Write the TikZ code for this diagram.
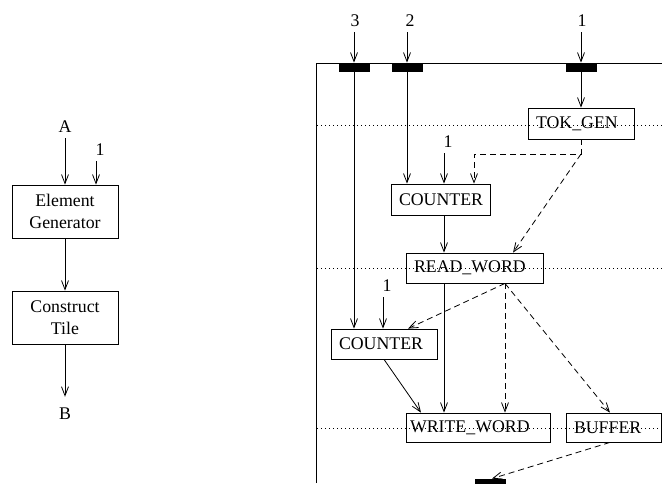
\documentclass[tikz,border=0pt]{standalone}
\usepackage{fontspec}
\setmainfont{Liberation Serif}
\usetikzlibrary{arrows.meta}
\begin{document}
\begin{tikzpicture}[x=1pt,y=-1pt,line width=0.8pt,
  >={Straight Barb[length=9pt,width=7pt]},
  every node/.style={font=\fontsize{17.8}{22}\selectfont},
  lbl/.style={inner sep=5pt},
  lbox/.style={draw,align=center,minimum width=106pt,minimum height=53pt,inner sep=0pt},
  wbox/.style={draw,align=left,inner xsep=8pt,inner ysep=0pt},
  bar/.style={fill=black,minimum width=31pt,minimum height=9pt,inner sep=0pt},
  dsh/.style={dash pattern=on 6pt off 4pt},
  dotl/.style={dash pattern=on 1pt off 3pt,line width=0.7pt}]
\useasboundingbox (0,0) rectangle (662,483);
% left diagram
\node[lbl] (A) at (65,127) {A};
\node[lbl] (one0) at (100,150) {1};
\node[lbox] (eg) at (65,211.5) {Element\\Generator};
\node[lbox] (ct) at (65,317.5) {Construct\\Tile};
\node[lbl] (B) at (65,414) {B};
\draw[->] (A) -- (eg);
\draw[->] ([xshift=-4pt]one0.south) -- ([xshift=-4pt]one0.south |- eg.north);
\draw[->] (eg) -- (ct);
\draw[->,shorten >=6pt] (ct) -- (B);
% right diagram frame and dotted levels
\draw (316,483) -- (316,63) -- (662,63);
\draw[dotl] (317,125) -- (662,125);
\draw[dotl] (317,268) -- (662,268);
\draw[dotl] (317,428) -- (662,428);
\node[bar] (b3) at (354,67.5) {};
\node[bar] (b2) at (407,67.5) {};
\node[bar] (b1) at (581,67.5) {};
\node[lbl] (l3) at (355,21) {3};
\node[lbl] (l2) at (410,21) {2};
\node[lbl] (l1) at (582,21) {1};
\node[wbox,text width=90pt,minimum height=31pt] (tok) at (581,123.5) {TOK\_GEN};
\node[wbox,text width=83pt,minimum height=31pt] (ca) at (440.5,199.5) {COUNTER};
\node[wbox,text width=121pt,minimum height=30pt] (rw) at (474.5,268) {READ\_WORD};
\node[wbox,text width=90pt,minimum height=30pt] (cb) at (384,344) {COUNTER};
\node[wbox,inner xsep=4pt,text width=136pt,minimum height=29pt] (ww) at (478,427.5) {WRITE\_WORD};
\node[wbox,text width=79pt,minimum height=29pt] (bf) at (613.5,427.5) {BUFFER};
\node[lbl] (lc1) at (448,142) {1};
\node[lbl] (lc2) at (387,286) {1};
\node[bar] (bot) at (490,483.5) {};
\coordinate (j) at (581,154);
\coordinate (p) at ([xshift=30.5pt]rw.south);
% connectors
\draw[->] (l1.south -| b1.north) -- (b1.north);
\draw[->] (b1.south) -- (tok.north);
\draw[->] (l2.south -| b2.north) -- (b2.north);
\draw[->] (b2.south) -- (b2.south |- ca.north);
\draw[->] (l3.south -| b3.north) -- (b3.north);
\draw[->] (b3.south) -- (b3.south |- cb.north);
\draw[->] ([xshift=-4pt]lc1.south) -- ([xshift=-4pt]lc1.south |- ca.north);
\draw[dsh,->] (tok.south) -- (j) -| ([xshift=33.5pt]ca.north);
\draw[dsh,->] (j) -- ([xshift=38.5pt]rw.north);
\draw[->] ([xshift=3.5pt]ca.south) -- ([xshift=3.5pt]ca.south |- rw.north);
\draw[->] ([xshift=-4pt]lc2.south) -- ([xshift=-4pt]lc2.south |- cb.north);
\draw[dsh,->] (p) -- ([xshift=24pt]cb.north);
\draw[dsh,->] (p) -- (p |- ww.north);
\draw[dsh,->] (p) -- ([xshift=-3.5pt]bf.north);
\draw[->] ([xshift=-30.5pt]rw.south) -- ([xshift=-30.5pt]rw.south |- ww.north);
\draw[->] (cb.south) -- ([xshift=-57pt]ww.north);
\draw[dsh,->] ([xshift=-3.5pt]bf.south) -- ([xshift=2pt]bot.north);
\end{tikzpicture}
\end{document}
